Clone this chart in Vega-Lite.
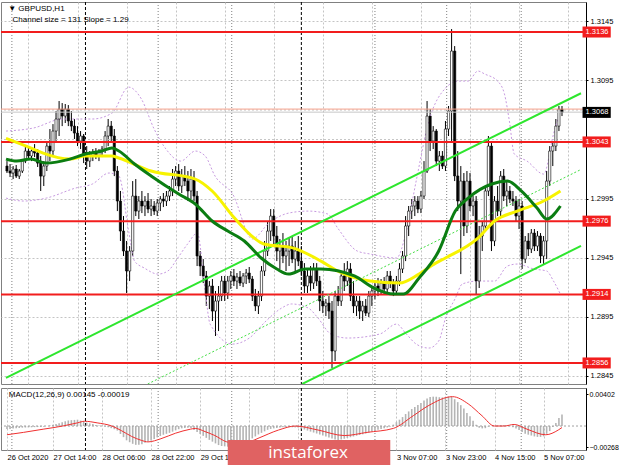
{
"$schema": "https://vega.github.io/schema/vega-lite/v6.json",
"background": "white",
"padding": {"left": 0, "top": 1, "right": 0, "bottom": 0},
"spacing": 2,
"config": {"view": {"stroke": "#808080", "strokeWidth": 1}, "font": "Liberation Sans", "axis": {"labelFont": "Liberation Sans", "labelFontSize": 7.5, "labelColor": "#000000"}},
"datasets": {
"bars": [
{"i":0,"o":1.30226,"h":1.30268,"l":1.30167,"c":1.30184,"m":-0.00038},
{"i":1,"o":1.30184,"h":1.30243,"l":1.30133,"c":1.30167,"m":-0.00036},
{"i":2,"o":1.30167,"h":1.30226,"l":1.30116,"c":1.30201,"m":-0.00031},
{"i":3,"o":1.30201,"h":1.30235,"l":1.30125,"c":1.30141,"m":-0.00028},
{"i":4,"o":1.30141,"h":1.30201,"l":1.30116,"c":1.30184,"m":-0.00025},
{"i":5,"o":1.30184,"h":1.30285,"l":1.30167,"c":1.30268,"m":-0.00021},
{"i":6,"o":1.30268,"h":1.30387,"l":1.30251,"c":1.30353,"m":-0.00019},
{"i":7,"o":1.30353,"h":1.30395,"l":1.30285,"c":1.30311,"m":-0.00018},
{"i":8,"o":1.30311,"h":1.30378,"l":1.30268,"c":1.30353,"m":-0.00016},
{"i":9,"o":1.30353,"h":1.30412,"l":1.30302,"c":1.30336,"m":-0.00014},
{"i":10,"o":1.30336,"h":1.30370,"l":1.30218,"c":1.30251,"m":-0.00013},
{"i":11,"o":1.30251,"h":1.30311,"l":1.30015,"c":1.30141,"m":-0.00011},
{"i":12,"o":1.30141,"h":1.30268,"l":1.30057,"c":1.30226,"m":-0.00009},
{"i":13,"o":1.30226,"h":1.30438,"l":1.30184,"c":1.30395,"m":0.0},
{"i":14,"o":1.30395,"h":1.30539,"l":1.30268,"c":1.30353,"m":0.00008},
{"i":15,"o":1.30353,"h":1.30581,"l":1.30311,"c":1.30522,"m":0.00016},
{"i":16,"o":1.30522,"h":1.30691,"l":1.30438,"c":1.30624,"m":0.00025},
{"i":17,"o":1.30624,"h":1.30776,"l":1.30480,"c":1.30708,"m":0.00034},
{"i":18,"o":1.30708,"h":1.30759,"l":1.30564,"c":1.30649,"m":0.00047},
{"i":19,"o":1.30649,"h":1.30751,"l":1.30590,"c":1.30708,"m":0.00060},
{"i":20,"o":1.30708,"h":1.30742,"l":1.30564,"c":1.30607,"m":0.00070},
{"i":21,"o":1.30607,"h":1.30691,"l":1.30522,"c":1.30564,"m":0.00074},
{"i":22,"o":1.30564,"h":1.30624,"l":1.30455,"c":1.30505,"m":0.00077},
{"i":23,"o":1.30505,"h":1.30564,"l":1.30395,"c":1.30438,"m":0.00080},
{"i":24,"o":1.30438,"h":1.30522,"l":1.30370,"c":1.30480,"m":0.00068},
{"i":25,"o":1.30480,"h":1.30497,"l":1.30251,"c":1.30311,"m":0.00056},
{"i":26,"o":1.30311,"h":1.30395,"l":1.30201,"c":1.30268,"m":0.00043},
{"i":27,"o":1.30268,"h":1.30353,"l":1.30218,"c":1.30311,"m":0.00033},
{"i":28,"o":1.30311,"h":1.30370,"l":1.30268,"c":1.30336,"m":0.00024},
{"i":29,"o":1.30336,"h":1.30378,"l":1.30285,"c":1.30311,"m":0.00014},
{"i":30,"o":1.30311,"h":1.30370,"l":1.30268,"c":1.30353,"m":0.00006},
{"i":31,"o":1.30353,"h":1.30395,"l":1.30302,"c":1.30370,"m":0.0},
{"i":32,"o":1.30370,"h":1.30522,"l":1.30336,"c":1.30480,"m":-0.00006},
{"i":33,"o":1.30480,"h":1.30624,"l":1.30395,"c":1.30564,"m":-0.00014},
{"i":34,"o":1.30564,"h":1.30607,"l":1.30438,"c":1.30480,"m":-0.00027},
{"i":35,"o":1.30480,"h":1.30539,"l":1.30141,"c":1.30184,"m":-0.00040},
{"i":36,"o":1.30184,"h":1.30226,"l":1.29845,"c":1.29930,"m":-0.00057},
{"i":37,"o":1.29930,"h":1.30015,"l":1.29592,"c":1.29676,"m":-0.00100},
{"i":38,"o":1.29676,"h":1.29803,"l":1.29465,"c":1.29507,"m":-0.00140},
{"i":39,"o":1.29507,"h":1.29592,"l":1.29152,"c":1.29338,"m":-0.00180},
{"i":40,"o":1.29338,"h":1.29549,"l":1.29253,"c":1.29507,"m":-0.00204},
{"i":41,"o":1.29507,"h":1.30099,"l":1.29465,"c":1.29972,"m":-0.00224},
{"i":42,"o":1.29972,"h":1.30116,"l":1.29803,"c":1.29845,"m":-0.00237},
{"i":43,"o":1.29845,"h":1.29972,"l":1.29778,"c":1.29930,"m":-0.00236},
{"i":44,"o":1.29930,"h":1.30015,"l":1.29828,"c":1.29888,"m":-0.00228},
{"i":45,"o":1.29888,"h":1.29972,"l":1.29803,"c":1.29930,"m":-0.00212},
{"i":46,"o":1.29930,"h":1.29998,"l":1.29828,"c":1.29862,"m":-0.00196},
{"i":47,"o":1.29862,"h":1.29947,"l":1.29803,"c":1.29888,"m":-0.00181},
{"i":48,"o":1.29888,"h":1.29930,"l":1.29812,"c":1.29845,"m":-0.00162},
{"i":49,"o":1.29845,"h":1.29947,"l":1.29803,"c":1.29913,"m":-0.00143},
{"i":50,"o":1.29913,"h":1.29972,"l":1.29845,"c":1.29947,"m":-0.00125},
{"i":51,"o":1.29947,"h":1.29998,"l":1.29879,"c":1.29930,"m":-0.00110},
{"i":52,"o":1.29930,"h":1.30015,"l":1.29888,"c":1.29972,"m":-0.00098},
{"i":53,"o":1.29972,"h":1.30057,"l":1.29930,"c":1.30015,"m":-0.00086},
{"i":54,"o":1.30015,"h":1.30201,"l":1.29972,"c":1.30116,"m":-0.00071},
{"i":55,"o":1.30116,"h":1.30226,"l":1.30057,"c":1.30184,"m":-0.00055},
{"i":56,"o":1.30184,"h":1.30243,"l":1.30015,"c":1.30057,"m":-0.00040},
{"i":57,"o":1.30057,"h":1.30201,"l":1.29998,"c":1.30141,"m":-0.00029},
{"i":58,"o":1.30141,"h":1.30226,"l":1.30057,"c":1.30099,"m":-0.00026},
{"i":59,"o":1.30099,"h":1.30184,"l":1.29930,"c":1.30015,"m":-0.00023},
{"i":60,"o":1.30015,"h":1.30201,"l":1.29947,"c":1.30116,"m":-0.00024},
{"i":61,"o":1.30116,"h":1.30184,"l":1.29930,"c":1.29972,"m":-0.00049},
{"i":62,"o":1.29972,"h":1.30015,"l":1.29380,"c":1.29465,"m":-0.00074},
{"i":63,"o":1.29465,"h":1.29507,"l":1.29296,"c":1.29380,"m":-0.00099},
{"i":64,"o":1.29380,"h":1.29439,"l":1.29236,"c":1.29296,"m":-0.00124},
{"i":65,"o":1.29296,"h":1.29338,"l":1.29042,"c":1.29126,"m":-0.00149},
{"i":66,"o":1.29126,"h":1.29253,"l":1.29016,"c":1.29211,"m":-0.00174},
{"i":67,"o":1.29211,"h":1.29270,"l":1.28915,"c":1.28999,"m":-0.00197},
{"i":68,"o":1.28999,"h":1.29169,"l":1.28788,"c":1.29084,"m":-0.00219},
{"i":69,"o":1.29084,"h":1.29211,"l":1.28830,"c":1.29126,"m":-0.00240},
{"i":70,"o":1.29126,"h":1.29296,"l":1.29084,"c":1.29253,"m":-0.00252},
{"i":71,"o":1.29253,"h":1.29296,"l":1.29084,"c":1.29152,"m":-0.00256},
{"i":72,"o":1.29152,"h":1.29296,"l":1.29101,"c":1.29253,"m":-0.00260},
{"i":73,"o":1.29253,"h":1.29338,"l":1.29186,"c":1.29296,"m":-0.00250},
{"i":74,"o":1.29296,"h":1.29355,"l":1.29211,"c":1.29253,"m":-0.00240},
{"i":75,"o":1.29253,"h":1.29321,"l":1.29186,"c":1.29287,"m":-0.00229},
{"i":76,"o":1.29287,"h":1.29338,"l":1.29211,"c":1.29236,"m":-0.00218},
{"i":77,"o":1.29236,"h":1.29321,"l":1.29202,"c":1.29296,"m":-0.00206},
{"i":78,"o":1.29296,"h":1.29355,"l":1.29228,"c":1.29321,"m":-0.00193},
{"i":79,"o":1.29321,"h":1.29372,"l":1.29236,"c":1.29270,"m":-0.00180},
{"i":80,"o":1.29270,"h":1.29296,"l":1.29084,"c":1.29126,"m":-0.00156},
{"i":81,"o":1.29126,"h":1.29186,"l":1.28999,"c":1.29042,"m":-0.00131},
{"i":82,"o":1.29042,"h":1.29169,"l":1.28974,"c":1.29126,"m":-0.00106},
{"i":83,"o":1.29126,"h":1.29380,"l":1.29084,"c":1.29338,"m":-0.00086},
{"i":84,"o":1.29338,"h":1.29592,"l":1.29296,"c":1.29507,"m":-0.00067},
{"i":85,"o":1.29507,"h":1.29761,"l":1.29465,"c":1.29676,"m":-0.00048},
{"i":86,"o":1.29676,"h":1.29862,"l":1.29592,"c":1.29803,"m":-0.00037},
{"i":87,"o":1.29803,"h":1.29862,"l":1.29549,"c":1.29634,"m":-0.00030},
{"i":88,"o":1.29634,"h":1.29719,"l":1.29422,"c":1.29507,"m":-0.00024},
{"i":89,"o":1.29507,"h":1.29609,"l":1.29355,"c":1.29549,"m":-0.00019},
{"i":90,"o":1.29549,"h":1.29659,"l":1.29405,"c":1.29465,"m":-0.00016},
{"i":91,"o":1.29465,"h":1.29592,"l":1.29338,"c":1.29507,"m":-0.00013},
{"i":92,"o":1.29507,"h":1.29617,"l":1.29380,"c":1.29549,"m":-0.00011},
{"i":93,"o":1.29549,"h":1.29634,"l":1.29405,"c":1.29439,"m":-0.00014},
{"i":94,"o":1.29439,"h":1.29592,"l":1.29338,"c":1.29507,"m":-0.00017},
{"i":95,"o":1.29507,"h":1.29634,"l":1.29380,"c":1.29422,"m":-0.00020},
{"i":96,"o":1.29422,"h":1.29549,"l":1.29296,"c":1.29338,"m":-0.00032},
{"i":97,"o":1.29338,"h":1.29405,"l":1.29152,"c":1.29211,"m":-0.00044},
{"i":98,"o":1.29211,"h":1.29355,"l":1.29152,"c":1.29296,"m":-0.00057},
{"i":99,"o":1.29296,"h":1.29380,"l":1.29169,"c":1.29236,"m":-0.00070},
{"i":100,"o":1.29236,"h":1.29405,"l":1.29186,"c":1.29355,"m":-0.00082},
{"i":101,"o":1.29355,"h":1.29405,"l":1.29211,"c":1.29253,"m":-0.00094},
{"i":102,"o":1.29253,"h":1.29296,"l":1.28999,"c":1.29084,"m":-0.00107},
{"i":103,"o":1.29084,"h":1.29169,"l":1.28982,"c":1.29042,"m":-0.00120},
{"i":104,"o":1.29042,"h":1.29101,"l":1.28957,"c":1.29067,"m":-0.00132},
{"i":105,"o":1.29067,"h":1.29126,"l":1.28932,"c":1.28999,"m":-0.00144},
{"i":106,"o":1.28999,"h":1.29084,"l":1.28517,"c":1.28661,"m":-0.00157},
{"i":107,"o":1.28661,"h":1.29169,"l":1.28576,"c":1.29126,"m":-0.00170},
{"i":108,"o":1.29126,"h":1.29211,"l":1.29042,"c":1.29084,"m":-0.00179},
{"i":109,"o":1.29084,"h":1.29338,"l":1.29042,"c":1.29296,"m":-0.00169},
{"i":110,"o":1.29296,"h":1.29405,"l":1.29169,"c":1.29253,"m":-0.00160},
{"i":111,"o":1.29253,"h":1.29422,"l":1.29211,"c":1.29355,"m":-0.00150},
{"i":112,"o":1.29355,"h":1.29405,"l":1.29084,"c":1.29126,"m":-0.00141},
{"i":113,"o":1.29126,"h":1.29253,"l":1.28982,"c":1.29042,"m":-0.00132},
{"i":114,"o":1.29042,"h":1.29126,"l":1.28957,"c":1.29084,"m":-0.00122},
{"i":115,"o":1.29084,"h":1.29126,"l":1.28932,"c":1.28999,"m":-0.00113},
{"i":116,"o":1.28999,"h":1.29084,"l":1.28915,"c":1.29042,"m":-0.00104},
{"i":117,"o":1.29042,"h":1.29101,"l":1.28957,"c":1.28982,"m":-0.00094},
{"i":118,"o":1.28982,"h":1.29169,"l":1.28949,"c":1.29126,"m":-0.00083},
{"i":119,"o":1.29126,"h":1.29211,"l":1.29042,"c":1.29169,"m":-0.00070},
{"i":120,"o":1.29169,"h":1.29253,"l":1.29101,"c":1.29211,"m":-0.00058},
{"i":121,"o":1.29211,"h":1.29279,"l":1.29126,"c":1.29169,"m":-0.00046},
{"i":122,"o":1.29169,"h":1.29270,"l":1.29135,"c":1.29236,"m":-0.00037},
{"i":123,"o":1.29236,"h":1.29287,"l":1.29143,"c":1.29186,"m":-0.00028},
{"i":124,"o":1.29186,"h":1.29338,"l":1.29152,"c":1.29296,"m":-0.00018},
{"i":125,"o":1.29296,"h":1.29338,"l":1.29194,"c":1.29236,"m":-0.00006},
{"i":126,"o":1.29236,"h":1.29270,"l":1.29126,"c":1.29169,"m":0.00018},
{"i":127,"o":1.29169,"h":1.29296,"l":1.29143,"c":1.29253,"m":0.00049},
{"i":128,"o":1.29253,"h":1.29405,"l":1.29211,"c":1.29355,"m":0.00080},
{"i":129,"o":1.29355,"h":1.29507,"l":1.29321,"c":1.29465,"m":0.00113},
{"i":130,"o":1.29465,"h":1.29803,"l":1.29422,"c":1.29719,"m":0.00151},
{"i":131,"o":1.29719,"h":1.29888,"l":1.29634,"c":1.29845,"m":0.00184},
{"i":132,"o":1.29845,"h":1.29947,"l":1.29778,"c":1.29888,"m":0.00214},
{"i":133,"o":1.29888,"h":1.29972,"l":1.29803,"c":1.29930,"m":0.00239},
{"i":134,"o":1.29930,"h":1.29972,"l":1.29828,"c":1.29862,"m":0.00264},
{"i":135,"o":1.29862,"h":1.30015,"l":1.29828,"c":1.29972,"m":0.00289},
{"i":136,"o":1.29972,"h":1.30268,"l":1.29947,"c":1.30184,"m":0.00320},
{"i":137,"o":1.30184,"h":1.30776,"l":1.30167,"c":1.30649,"m":0.00347},
{"i":138,"o":1.30649,"h":1.30708,"l":1.30353,"c":1.30438,"m":0.00365},
{"i":139,"o":1.30438,"h":1.30564,"l":1.30370,"c":1.30522,"m":0.00370},
{"i":140,"o":1.30522,"h":1.30539,"l":1.30226,"c":1.30268,"m":0.00369},
{"i":141,"o":1.30268,"h":1.30353,"l":1.30184,"c":1.30311,"m":0.00363},
{"i":142,"o":1.30311,"h":1.30353,"l":1.30201,"c":1.30226,"m":0.00360},
{"i":143,"o":1.30226,"h":1.30607,"l":1.30184,"c":1.30539,"m":0.00360},
{"i":144,"o":1.30539,"h":1.30734,"l":1.30480,"c":1.30691,"m":0.00372},
{"i":145,"o":1.30691,"h":1.31385,"l":1.30438,"c":1.31199,"m":0.00370},
{"i":146,"o":1.31199,"h":1.31241,"l":1.30099,"c":1.30142,"m":0.00338},
{"i":147,"o":1.30142,"h":1.30353,"l":1.29845,"c":1.29930,"m":0.00301},
{"i":148,"o":1.29930,"h":1.30226,"l":1.29312,"c":1.30099,"m":0.00263},
{"i":149,"o":1.30099,"h":1.30167,"l":1.29634,"c":1.29719,"m":0.00222},
{"i":150,"o":1.29719,"h":1.30184,"l":1.29659,"c":1.30099,"m":0.00164},
{"i":151,"o":1.30099,"h":1.30167,"l":1.29845,"c":1.29888,"m":0.00122},
{"i":152,"o":1.29888,"h":1.29972,"l":1.29803,"c":1.29930,"m":0.00066},
{"i":153,"o":1.29930,"h":1.29972,"l":1.29143,"c":1.29253,"m":0.00017},
{"i":154,"o":1.29253,"h":1.29719,"l":1.29194,"c":1.29634,"m":-0.00021},
{"i":155,"o":1.29634,"h":1.29761,"l":1.29507,"c":1.29719,"m":-0.00030},
{"i":156,"o":1.29719,"h":1.30057,"l":1.29676,"c":1.30015,"m":-0.00027},
{"i":157,"o":1.30015,"h":1.30480,"l":1.29972,"c":1.30395,"m":-0.00008},
{"i":158,"o":1.30395,"h":1.30438,"l":1.29507,"c":1.29592,"m":0.0},
{"i":159,"o":1.29592,"h":1.29972,"l":1.29549,"c":1.29930,"m":0.0},
{"i":160,"o":1.29930,"h":1.30057,"l":1.29803,"c":1.29845,"m":0.00006},
{"i":161,"o":1.29845,"h":1.30184,"l":1.29803,"c":1.30141,"m":0.00010},
{"i":162,"o":1.30141,"h":1.30201,"l":1.29930,"c":1.29972,"m":0.00010},
{"i":163,"o":1.29972,"h":1.30099,"l":1.29888,"c":1.30015,"m":0.00005},
{"i":164,"o":1.30015,"h":1.30057,"l":1.29913,"c":1.29947,"m":-0.00002},
{"i":165,"o":1.29947,"h":1.30015,"l":1.29888,"c":1.29930,"m":-0.00014},
{"i":166,"o":1.29930,"h":1.29972,"l":1.29761,"c":1.29803,"m":-0.00030},
{"i":167,"o":1.29803,"h":1.29947,"l":1.29693,"c":1.29888,"m":-0.00049},
{"i":168,"o":1.29888,"h":1.29930,"l":1.29355,"c":1.29439,"m":-0.00074},
{"i":169,"o":1.29439,"h":1.29634,"l":1.29405,"c":1.29592,"m":-0.00098},
{"i":170,"o":1.29592,"h":1.29659,"l":1.29465,"c":1.29524,"m":-0.00109},
{"i":171,"o":1.29524,"h":1.29693,"l":1.29490,"c":1.29659,"m":-0.00120},
{"i":172,"o":1.29659,"h":1.29693,"l":1.29507,"c":1.29549,"m":-0.00131},
{"i":173,"o":1.29549,"h":1.29676,"l":1.29507,"c":1.29634,"m":-0.00137},
{"i":174,"o":1.29634,"h":1.29659,"l":1.29405,"c":1.29465,"m":-0.00137},
{"i":175,"o":1.29465,"h":1.29634,"l":1.29397,"c":1.29592,"m":-0.00130},
{"i":176,"o":1.29592,"h":1.30184,"l":1.29439,"c":1.30099,"m":-0.00098},
{"i":177,"o":1.30099,"h":1.30395,"l":1.30057,"c":1.30353,"m":-0.00064},
{"i":178,"o":1.30353,"h":1.30438,"l":1.30226,"c":1.30395,"m":-0.00012},
{"i":179,"o":1.30395,"h":1.30624,"l":1.30353,"c":1.30564,"m":0.00038},
{"i":180,"o":1.30564,"h":1.30734,"l":1.30522,"c":1.30708,"m":0.00100},
{"i":181,"o":1.30708,"h":1.30734,"l":1.30649,"c":1.30680,"m":0.00145}
],
"maY": [{"i":-0.32,"p":1.30460},{"i":8.64,"p":1.30370},{"i":11.8,"p":1.30336},{"i":20.5,"p":1.30285},{"i":25.6,"p":1.30311},{"i":34.2,"p":1.30311},{"i":36.5,"p":1.30294},{"i":47,"p":1.30184},{"i":61.4,"p":1.30116},{"i":66.9,"p":1.30015},{"i":74.2,"p":1.29786},{"i":80.6,"p":1.29617},{"i":83.8,"p":1.29566},{"i":93.4,"p":1.29532},{"i":102.4,"p":1.29422},{"i":107.8,"p":1.29338},{"i":118.4,"p":1.29253},{"i":128,"p":1.29236},{"i":134.4,"p":1.29312},{"i":139.8,"p":1.29405},{"i":143,"p":1.29448},{"i":153.6,"p":1.29617},{"i":159,"p":1.29761},{"i":166.4,"p":1.29845},{"i":175,"p":1.29930},{"i":180.5,"p":1.30015}],
"maG": [{"i":-0.32,"p":1.30285},{"i":3.2,"p":1.30268},{"i":7.7,"p":1.30285},{"i":12.8,"p":1.30251},{"i":20.5,"p":1.30285},{"i":25.6,"p":1.30328},{"i":31,"p":1.30353},{"i":34.2,"p":1.30378},{"i":36.5,"p":1.30353},{"i":41.6,"p":1.30243},{"i":47,"p":1.30142},{"i":56,"p":1.29989},{"i":61.4,"p":1.29905},{"i":66.9,"p":1.29761},{"i":72,"p":1.29676},{"i":77.4,"p":1.29592},{"i":82.9,"p":1.29448},{"i":88,"p":1.29355},{"i":91.8,"p":1.29312},{"i":97.3,"p":1.29355},{"i":102.4,"p":1.29355},{"i":113.3,"p":1.29296},{"i":119.7,"p":1.29194},{"i":126.1,"p":1.29143},{"i":129.3,"p":1.29143},{"i":134.4,"p":1.29279},{"i":140.8,"p":1.29507},{"i":146.2,"p":1.29845},{"i":150.4,"p":1.29955},{"i":158.1,"p":1.30074},{"i":163.2,"p":1.30099},{"i":167.7,"p":1.30015},{"i":172.8,"p":1.29873},{"i":176,"p":1.29778},{"i":180.5,"p":1.29888}],
"bands": [
{"b":"u","i":-0.32,"p":1.30522},{"b":"u","i":8.64,"p":1.30548},{"b":"u","i":18.24,"p":1.30624},{"b":"u","i":27.84,"p":1.30624},{"b":"u","i":34.24,"p":1.30674},{"b":"u","i":39.68,"p":1.30894},{"b":"u","i":43.84,"p":1.30793},{"b":"u","i":48,"p":1.30539},{"b":"u","i":51.84,"p":1.30370},{"b":"u","i":56.64,"p":1.30268},{"b":"u","i":61.44,"p":1.30353},{"b":"u","i":64.64,"p":1.30311},{"b":"u","i":67.84,"p":1.30142},{"b":"u","i":73.6,"p":1.29989},{"b":"u","i":80,"p":1.29609},{"b":"u","i":85.44,"p":1.29744},{"b":"u","i":91.84,"p":1.29828},{"b":"u","i":98.24,"p":1.29845},{"b":"u","i":104.64,"p":1.29820},{"b":"u","i":107.84,"p":1.29702},{"b":"u","i":114.24,"p":1.29507},{"b":"u","i":118.4,"p":1.29482},{"b":"u","i":127.04,"p":1.29448},{"b":"u","i":130.24,"p":1.29676},{"b":"u","i":133.44,"p":1.30099},{"b":"u","i":137.6,"p":1.30607},{"b":"u","i":143.04,"p":1.30886},{"b":"u","i":147.2,"p":1.30945},{"b":"u","i":150.4,"p":1.30945},{"b":"u","i":153.6,"p":1.31030},{"b":"u","i":155.84,"p":1.31004},{"b":"u","i":160,"p":1.30945},{"b":"u","i":162.24,"p":1.30835},{"b":"u","i":163.84,"p":1.30607},{"b":"u","i":165.44,"p":1.30328},{"b":"u","i":169.6,"p":1.30268},{"b":"u","i":175.04,"p":1.30158},{"b":"u","i":178.24,"p":1.30497},{"b":"u","i":180.48,"p":1.30691},
{"b":"l","i":-0.32,"p":1.29955},{"b":"l","i":5.44,"p":1.29930},{"b":"l","i":12.8,"p":1.29955},{"b":"l","i":22.4,"p":1.30040},{"b":"l","i":27.84,"p":1.30074},{"b":"l","i":33.28,"p":1.30167},{"b":"l","i":36.48,"p":1.30142},{"b":"l","i":39.68,"p":1.29676},{"b":"l","i":41.6,"p":1.29422},{"b":"l","i":44.8,"p":1.29363},{"b":"l","i":49.28,"p":1.29312},{"b":"l","i":52.48,"p":1.29338},{"b":"l","i":55.68,"p":1.29448},{"b":"l","i":58.88,"p":1.29566},{"b":"l","i":62.08,"p":1.29659},{"b":"l","i":64.64,"p":1.29169},{"b":"l","i":66.24,"p":1.28889},{"b":"l","i":73.6,"p":1.28720},{"b":"l","i":79.04,"p":1.28771},{"b":"l","i":84.48,"p":1.28915},{"b":"l","i":89.6,"p":1.29025},{"b":"l","i":92.8,"p":1.29059},{"b":"l","i":98.24,"p":1.29025},{"b":"l","i":101.44,"p":1.28940},{"b":"l","i":105.6,"p":1.28805},{"b":"l","i":111.04,"p":1.28771},{"b":"l","i":121.6,"p":1.28805},{"b":"l","i":127.04,"p":1.28889},{"b":"l","i":130.24,"p":1.28805},{"b":"l","i":133.44,"p":1.28720},{"b":"l","i":137.6,"p":1.28686},{"b":"l","i":140.8,"p":1.28746},{"b":"l","i":143.04,"p":1.28940},{"b":"l","i":146.24,"p":1.29109},{"b":"l","i":148.48,"p":1.29228},{"b":"l","i":153.6,"p":1.29253},{"b":"l","i":159.04,"p":1.29253},{"b":"l","i":163.2,"p":1.29380},{"b":"l","i":166.4,"p":1.29397},{"b":"l","i":171.84,"p":1.29355},{"b":"l","i":176,"p":1.29338},{"b":"l","i":178.24,"p":1.29253},{"b":"l","i":180.48,"p":1.29143}
],
"sig": [{"i":0,"s":-0.0011},{"i":5.4,"s":-0.0008},{"i":11.8,"s":-0.0004},{"i":18.2,"s":0},{"i":23,"s":0.0004},{"i":25.3,"s":0.0006},{"i":29.4,"s":0.0004},{"i":34.2,"s":0},{"i":37.4,"s":-0.0006},{"i":40.6,"s":-0.0013},{"i":43.8,"s":-0.0018},{"i":46,"s":-0.002},{"i":50.2,"s":-0.0016},{"i":55,"s":-0.0009},{"i":59.8,"s":-0.0004},{"i":61.4,"s":-0.0003},{"i":64.6,"s":-0.0007},{"i":67.8,"s":-0.0012},{"i":71.7,"s":-0.002},{"i":75.8,"s":-0.0022},{"i":79,"s":-0.002},{"i":82.2,"s":-0.0015},{"i":88.6,"s":-0.0005},{"i":94.1,"s":0},{"i":101.4,"s":-0.0005},{"i":110,"s":-0.0012},{"i":117.4,"s":-0.0008},{"i":126,"s":-0.0003},{"i":132.5,"s":0.0013},{"i":137.6,"s":0.0026},{"i":145.3,"s":0.0037},{"i":150.4,"s":0.0028},{"i":154.9,"s":0.0013},{"i":159,"s":0},{"i":162.2,"s":0},{"i":165.4,"s":0.0002},{"i":169.6,"s":-0.0004},{"i":175.7,"s":-0.0011},{"i":179.8,"s":-0.0005},{"i":181,"s":-0.00019}],
"levels": [{"p":1.3136,"t":"1.3136"},{"p":1.3043,"t":"1.3043"},{"p":1.2976,"t":"1.2976"},{"p":1.2914,"t":"1.2914"},{"p":1.2856,"t":"1.2856"}],
"hgrid": [{"p":1.3045},{"p":1.307}],
"chan": [{"k":"u","i":-0.32,"p":1.28433,"i2":187.2,"p2":1.30842},{"k":"l","i":96.3,"p":1.28383,"i2":187.2,"p2":1.29550},{"k":"m","i":45.9,"p":1.28382,"i2":187.2,"p2":1.30197}],
"vsep": [{"i":1.6,"k":"d"},{"i":49.3,"k":"d"},{"i":73.3,"k":"d"},{"i":120,"k":"d"},{"i":143.4,"k":"d"},{"i":167.7,"k":"d"},{"i":25.6,"k":"b"},{"i":96,"k":"b"}]
},
"vconcat": [
{
"width": 585, "height": 382,
"layer": [
{"data": {"name": "vsep"}, "mark": {"type": "rule", "strokeWidth": 1, "clip": true},
 "encoding": {
  "x": {"field": "i", "type": "quantitative", "title": null, "scale": {"domain": [-0.32, 187.2], "nice": false, "zero": false},
        "axis": {"orient": "bottom", "values": [7,15,23,31,39,47,55,63,71,79,87,95,103,111,119,127,135,143,151,159,167,175,183], "labels": false, "ticks": false, "domain": false, "grid": true, "gridColor": "#c4c4c4", "gridDash": [2,2], "title": null}},
  "color": {"condition": {"test": "datum.k=='b'", "value": "#000000"}, "value": "#808080"},
  "strokeDash": {"condition": {"test": "datum.k=='b'", "value": [3,2]}, "value": [1,2]}
 }},
{"data": {"name": "bars"}, "mark": {"type": "rule", "color": "#000000", "strokeWidth": 1, "clip": true},
 "encoding": {"x": {"field": "i", "type": "quantitative", "title": null},
  "y": {"field": "l", "type": "quantitative", "title": null, "scale": {"domain": [1.28382, 1.31614], "nice": false, "zero": false},
   "axis": {"orient": "right", "values": [1.2845,1.287,1.2895,1.292,1.2945,1.297,1.2995,1.302,1.3095,1.312,1.3145], "format": ".4f", "grid": true, "gridColor": "#c4c4c4", "gridDash": [2,2], "domain": true, "domainColor": "#000000", "ticks": true, "tickSize": 2, "tickColor": "#000000", "labelPadding": 2, "title": null}},
  "y2": {"field": "h"}}},
{"data": {"name": "hgrid"}, "mark": {"type": "rule", "color": "#c4c4c4", "strokeDash": [2,2], "strokeWidth": 1, "clip": true},
 "encoding": {"y": {"field": "p", "type": "quantitative", "title": null}}},
{"data": {"name": "bands"}, "mark": {"type": "line", "color": "#c79ae0", "strokeWidth": 1, "strokeDash": [2,2], "interpolate": "monotone", "clip": true},
 "encoding": {"x": {"field": "i", "type": "quantitative", "title": null}, "y": {"field": "p", "type": "quantitative", "title": null}, "detail": {"field": "b"}}},
{"data": {"name": "bars"}, "mark": {"type": "bar", "width": 2.2, "stroke": "#000000", "strokeWidth": 0.6, "clip": true},
 "encoding": {"x": {"field": "i", "type": "quantitative", "title": null}, "y": {"field": "o", "type": "quantitative", "title": null}, "y2": {"field": "c"},
  "fill": {"condition": {"test": "datum.c >= datum.o", "value": "#ffffff"}, "value": "#000000"}}},
{"data": {"name": "levels"}, "mark": {"type": "rule", "color": "#f21d1d", "strokeWidth": 2, "clip": true},
 "encoding": {"y": {"field": "p", "type": "quantitative", "title": null}}},
{"data": {"values": [{"p": 1.30708, "k": "a"}, {"p": 1.30682, "k": "b"}]}, "mark": {"type": "rule", "strokeWidth": 1, "clip": true},
 "encoding": {"y": {"field": "p", "type": "quantitative", "title": null}, "color": {"field": "k", "type": "nominal", "scale": {"domain": ["a","b"], "range": ["#f5a08a", "#c8c8c8"]}, "legend": null}}},
{"data": {"name": "chan"}, "transform": [{"filter": "datum.k != 'm'"}], "mark": {"type": "rule", "color": "#2ee62e", "strokeWidth": 2, "clip": true},
 "encoding": {"x": {"field": "i", "type": "quantitative", "title": null}, "x2": {"field": "i2"}, "y": {"field": "p", "type": "quantitative", "title": null}, "y2": {"field": "p2"}}},
{"data": {"name": "chan"}, "transform": [{"filter": "datum.k == 'm'"}], "mark": {"type": "rule", "color": "#44dd44", "strokeWidth": 1, "strokeDash": [2,2], "clip": true},
 "encoding": {"x": {"field": "i", "type": "quantitative", "title": null}, "x2": {"field": "i2"}, "y": {"field": "p", "type": "quantitative", "title": null}, "y2": {"field": "p2"}}},
{"data": {"name": "maY"}, "mark": {"type": "line", "color": "#f7f300", "strokeWidth": 3, "interpolate": "monotone", "clip": true},
 "encoding": {"x": {"field": "i", "type": "quantitative", "title": null}, "y": {"field": "p", "type": "quantitative", "title": null}}},
{"data": {"name": "maG"}, "mark": {"type": "line", "color": "#0b7d12", "strokeWidth": 3, "interpolate": "monotone", "clip": true},
 "encoding": {"x": {"field": "i", "type": "quantitative", "title": null}, "y": {"field": "p", "type": "quantitative", "title": null}}},
{"data": {"name": "levels"}, "mark": {"type": "rect", "color": "#f21d1d", "yOffset": -5.5, "y2Offset": 5.5},
 "encoding": {"x": {"datum": 187.7, "type": "quantitative", "title": null}, "x2": {"datum": 196.9}, "y": {"field": "p", "type": "quantitative", "title": null}, "y2": {"field": "p"}}},
{"data": {"name": "levels"}, "mark": {"type": "text", "color": "#ffffff", "fontSize": 7.5, "align": "left", "baseline": "middle", "dx": 3},
 "encoding": {"x": {"datum": 187.7, "type": "quantitative", "title": null}, "y": {"field": "p", "type": "quantitative", "title": null}, "text": {"field": "t"}}},
{"data": {"values": [{"p": 1.3068, "t": "1.3068"}]}, "mark": {"type": "rect", "color": "#000000", "yOffset": -5.5, "y2Offset": 5.5},
 "encoding": {"x": {"datum": 187.7, "type": "quantitative", "title": null}, "x2": {"datum": 196.9}, "y": {"field": "p", "type": "quantitative", "title": null}, "y2": {"field": "p"}}},
{"data": {"values": [{"p": 1.3068, "t": "1.3068"}]}, "mark": {"type": "text", "color": "#ffffff", "fontSize": 7.5, "align": "left", "baseline": "middle", "dx": 3},
 "encoding": {"x": {"datum": 187.7, "type": "quantitative", "title": null}, "y": {"field": "p", "type": "quantitative", "title": null}, "text": {"field": "t"}}},
{"data": {"values": [{"t": "▼  GBPUSD,H1"}]}, "mark": {"type": "text", "fontSize": 8, "align": "left", "baseline": "middle", "color": "#000000"},
 "encoding": {"x": {"datum": 0.4, "type": "quantitative", "title": null}, "y": {"datum": 1.31554, "type": "quantitative", "title": null}, "text": {"field": "t"}}},
{"data": {"values": [{"t": "Channel size = 131 Slope = 1.29"}]}, "mark": {"type": "text", "fontSize": 8, "align": "left", "baseline": "middle", "color": "#000000"},
 "encoding": {"x": {"datum": 1.8, "type": "quantitative", "title": null}, "y": {"datum": 1.31461, "type": "quantitative", "title": null}, "text": {"field": "t"}}}
]
},
{
"width": 585, "height": 62,
"layer": [
{"data": {"name": "vsep"}, "mark": {"type": "rule", "strokeWidth": 1, "clip": true},
 "encoding": {
  "x": {"field": "i", "type": "quantitative", "title": null, "scale": {"domain": [-0.32, 187.2], "nice": false, "zero": false},
        "axis": {"orient": "bottom", "values": [0,7,15,23,31,39,47,55,63,71,79,87,95,103,111,119,127,135,143,151,159,167,175,183],
          "labelExpr": "datum.value==0?'26 Oct 2020':datum.value==15?'27 Oct 14:00':datum.value==31?'28 Oct 06:00':datum.value==47?'28 Oct 22:00':datum.value==63?'29 Oct 14:00':datum.value==127?'3 Nov 07:00':datum.value==143?'3 Nov 23:00':datum.value==159?'4 Nov 15:00':datum.value==175?'5 Nov 07:00':''",
          "labelAlign": "left", "labelOffset": 0, "labelPadding": 3, "labelOverlap": false, "labelBound": false, "labelFlush": false,
          "ticks": false, "domain": false, "grid": true, "gridColor": "#c4c4c4", "gridDash": [2,2], "title": null}},
  "color": {"condition": {"test": "datum.k=='b'", "value": "#000000"}, "value": "#808080"},
  "strokeDash": {"condition": {"test": "datum.k=='b'", "value": [3,2]}, "value": [1,2]}
 }},
{"data": {"name": "bars"}, "mark": {"type": "bar", "width": 1.6, "color": "#b4b4b4", "clip": true},
 "encoding": {"x": {"field": "i", "type": "quantitative", "title": null},
  "y": {"field": "m", "type": "quantitative", "title": null, "scale": {"domain": [-0.00302, 0.00479], "nice": false, "zero": false},
   "axis": {"orient": "right", "values": [0.00402, 0, -0.00268], "labelExpr": "datum.value==0?'0.00':format(datum.value,'.5f')", "labelFontSize": 7, "grid": false, "domain": true, "domainColor": "#000000", "ticks": true, "tickSize": 2, "tickColor": "#000000", "labelPadding": 1, "title": null}},
  "y2": {"datum": 0}}},
{"data": {"values": [{}]}, "mark": {"type": "rule", "color": "#a0a0a0", "strokeDash": [2,2], "strokeWidth": 1, "clip": true},
 "encoding": {"y": {"datum": 0, "type": "quantitative", "title": null}}},
{"data": {"name": "sig"}, "mark": {"type": "line", "color": "#f03030", "strokeWidth": 1, "interpolate": "monotone", "clip": true},
 "encoding": {"x": {"field": "i", "type": "quantitative", "title": null}, "y": {"field": "s", "type": "quantitative", "title": null}}},
{"data": {"values": [{"t": "MACD(12,26,9) 0.00145 -0.00019"}]}, "mark": {"type": "text", "fontSize": 8, "align": "left", "baseline": "middle", "color": "#000000"},
 "encoding": {"x": {"datum": 0.6, "type": "quantitative", "title": null}, "y": {"datum": 0.0039, "type": "quantitative", "title": null}, "text": {"field": "t"}}},
{"data": {"values": [{}]}, "mark": {"type": "rect", "color": "#e06262", "opacity": 1},
 "encoding": {"x": {"datum": 72, "type": "quantitative", "title": null}, "x2": {"datum": 125}, "y": {"datum": -0.00176, "type": "quantitative", "title": null}, "y2": {"datum": -0.0056}}},
{"data": {"values": [{"t": "instaforex"}]}, "mark": {"type": "text", "fontSize": 17, "align": "center", "baseline": "middle", "color": "#ffffff", "font": "Open Sans"},
 "encoding": {"x": {"datum": 98.2, "type": "quantitative", "title": null}, "y": {"datum": -0.0034, "type": "quantitative", "title": null}, "text": {"field": "t"}}}
]
}
]
}
